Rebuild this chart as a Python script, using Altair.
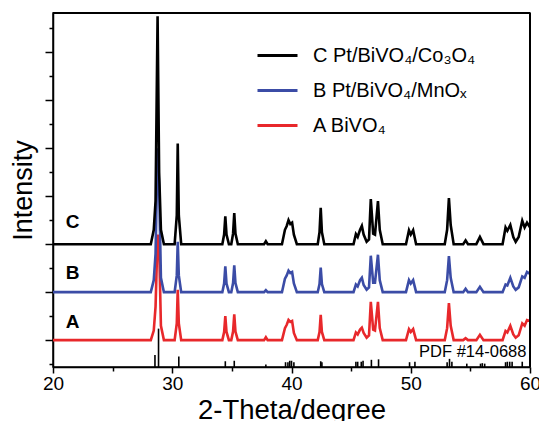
import altair as alt
import pandas as pd

# ---- data -----------------------------------------------------------------
two_theta = [20.0, 28.2, 28.45, 28.6, 28.77, 28.9, 29.05, 29.3,
             30.2, 30.38, 30.46, 30.55, 30.75,
             34.2, 34.35, 34.45, 34.55, 34.75,
             34.95, 35.1, 35.2, 35.3, 35.5,
             37.7, 37.85, 38.0,
             39.2, 39.45, 39.6, 39.75, 39.9, 40.05, 40.2, 40.45,
             42.2, 42.35, 42.45, 42.55, 42.75,
             45.2, 45.4, 45.55, 45.75, 45.9, 46.05, 46.3,
             46.5, 46.65, 46.85, 47.0, 47.25, 47.4, 47.65,
             49.6, 49.85, 50.0, 50.2, 50.45,
             52.85, 53.05, 53.2, 53.35, 53.6,
             54.4, 54.6, 54.8,
             55.5, 55.8, 56.1,
             57.7, 57.95, 58.1, 58.35, 58.6, 58.8, 59.05, 59.35, 59.55, 59.75, 60.0]

int_c = [0, 0, 0.3, 0.9, 4.75, 1.5, 0.3, 0,
         0, 0.6, 2.1, 0.6, 0,
         0, 0.2, 0.58, 0.2, 0,
         0, 0.22, 0.65, 0.22, 0,
         0, 0.06, 0,
         0, 0.3, 0.38, 0.5, 0.42, 0.45, 0.2, 0,
         0, 0.25, 0.76, 0.25, 0,
         0, 0.21, 0.15, 0.3, 0.38, 0.2, 0.05,
         0.1, 0.94, 0.22, 0.2, 0.9, 0.3, 0,
         0, 0.29, 0.2, 0.29, 0,
         0, 0.3, 0.96, 0.4, 0,
         0, 0.08, 0,
         0, 0.15, 0,
         0, 0.35, 0.28, 0.4, 0.15, 0.05, 0.15, 0.49, 0.35, 0.45, 0.35]

int_b = [0, 0, 0.25, 0.8, 3.0, 2.2, 0.3, 0,
         0, 0.35, 1.05, 0.35, 0,
         0, 0.18, 0.54, 0.18, 0,
         0, 0.19, 0.56, 0.19, 0,
         0, 0.04, 0,
         0, 0.28, 0.35, 0.45, 0.4, 0.42, 0.18, 0,
         0, 0.17, 0.51, 0.17, 0,
         0, 0.16, 0.12, 0.25, 0.3, 0.15, 0.05,
         0.1, 0.76, 0.2, 0.2, 0.78, 0.25, 0,
         0, 0.25, 0.18, 0.25, 0,
         0, 0.25, 0.75, 0.3, 0,
         0, 0.07, 0,
         0, 0.11, 0,
         0, 0.16, 0.14, 0.3, 0.12, 0.05, 0.1, 0.33, 0.3, 0.42, 0.38]

int_a = [0, 0, 0.2, 0.7, 2.2, 2.0, 0.3, 0,
         0, 0.35, 1.05, 0.35, 0,
         0, 0.17, 0.5, 0.17, 0,
         0, 0.18, 0.54, 0.18, 0,
         0, 0.06, 0,
         0, 0.25, 0.32, 0.42, 0.38, 0.4, 0.15, 0,
         0, 0.17, 0.53, 0.17, 0,
         0, 0.16, 0.12, 0.22, 0.26, 0.15, 0.05,
         0.1, 0.8, 0.22, 0.2, 0.8, 0.25, 0,
         0, 0.23, 0.17, 0.23, 0,
         0, 0.25, 0.77, 0.3, 0,
         0, 0.04, 0,
         0, 0.11, 0,
         0, 0.19, 0.16, 0.3, 0.12, 0.05, 0.1, 0.35, 0.3, 0.42, 0.4]

series_names = ["C Pt/BiVO\u2084/Co\u2083O\u2084",
                "B Pt/BiVO\u2084/MnO\u2093",
                "A BiVO\u2084"]
series_offsets = [2, 1, 0]
series_letters = ["C", "B", "A"]
letter_y = [2.46, 1.40, 0.375]
series_colors = ["#000000", "#3b4ca6", "#e8282b"]

pdf_pos = [28.55, 28.85, 30.55, 34.45, 35.2, 37.85, 39.5, 39.7, 39.85, 40.0,
           40.2, 42.45, 42.55, 45.4, 45.55, 45.85, 46.0, 46.7, 47.3, 49.9,
           50.35, 53.05, 53.25, 53.45, 54.7, 55.85, 56.0, 56.2, 57.95, 58.1,
           58.3, 58.5, 59.35]
pdf_h = [0.25, 0.8, 0.22, 0.12, 0.13, 0.05, 0.1, 0.1, 0.13, 0.13,
         0.1, 0.12, 0.1, 0.11, 0.11, 0.11, 0.13, 0.15, 0.16, 0.1,
         0.11, 0.1, 0.17, 0.11, 0.07, 0.07, 0.08, 0.07, 0.1, 0.11,
         0.11, 0.11, 0.11]
pdf_label = "PDF #14-0688"

x_major = [20, 30, 40, 50, 60]
x_minor = [25, 35, 45, 55]
y_major = [0, 1, 2, 3, 4, 5, 6]
y_minor = [-0.5, 0.5, 1.5, 2.5, 3.5, 4.5, 5.5, 6.5]
x_domain = [20, 60]
y_domain = [-0.56, 6.82]

# ---- tables -----------------------------------------------------------------
rows = []
for name, off, vals in zip(series_names, series_offsets, [int_c, int_b, int_a]):
    for t, v in zip(two_theta, vals):
        rows.append({"x": t, "y": v + off, "series": name})
lines_df = pd.DataFrame(rows)

pdf_df = pd.DataFrame({"x": pdf_pos,
                       "y0": [y_domain[0]] * len(pdf_pos),
                       "y1": [y_domain[0] + h for h in pdf_h]})
letters_df = pd.DataFrame({"x": [21.65] * 3, "y": letter_y, "t": series_letters})
pdf_text_df = pd.DataFrame({"x": [59.7], "y": [-0.25], "t": [pdf_label]})
frame_df = pd.DataFrame({"fx0": [x_domain[0]], "fx1": [x_domain[1]],
                         "fy0": [y_domain[0]], "fy1": [y_domain[1]]})

FONT = "Liberation Sans"
xs = alt.Scale(domain=x_domain, nice=False, zero=False)
ys = alt.Scale(domain=y_domain, nice=False, zero=False)

x_axis = alt.Axis(values=x_major, tickSize=6, labelFontSize=19, labelPadding=1,
                  title="2-Theta/degree", titleFontSize=27.5, titlePadding=3,
                  titleFontWeight="normal", grid=False, labelFlush=False)
y_axis = alt.Axis(values=y_major, tickSize=8, labels=False, title="Intensity",
                  titleFontSize=27, titlePadding=7, titleFontWeight="normal",
                  grid=False)

color = alt.Color("series:N",
                  scale=alt.Scale(domain=series_names, range=series_colors),
                  legend=alt.Legend(title=None, orient="none", legendX=203, legendY=21,
                                    symbolType="stroke", symbolSize=1600,
                                    symbolStrokeWidth=3, labelFontSize=20,
                                    labelFont=FONT, labelOffset=14, rowPadding=3,
                                    padding=0, labelLimit=400))

X = lambda f: alt.X(f, scale=xs, axis=x_axis)
Y = lambda f: alt.Y(f, scale=ys, axis=y_axis)

def line_layer(name):
    return alt.Chart(lines_df).transform_filter(
        alt.datum.series == name
    ).mark_line(strokeWidth=2.6, interpolate="linear").encode(
        x=X("x:Q"), y=Y("y:Q"), color=color, order=alt.Order("x:Q"),
    )

layers = [line_layer(series_names[2]), line_layer(series_names[1]), line_layer(series_names[0])]

sticks = alt.Chart(pdf_df).mark_rule(color="black", strokeWidth=1.6).encode(
    x=X("x:Q"), y=Y("y0:Q"), y2="y1:Q",
)

letters = alt.Chart(letters_df).mark_text(
    font=FONT, fontSize=19, fontWeight="bold", align="center", baseline="middle", color="black"
).encode(x=X("x:Q"), y=Y("y:Q"), text="t:N")

pdf_text = alt.Chart(pdf_text_df).mark_text(
    font=FONT, fontSize=16.5, align="right", baseline="middle", color="black"
).encode(x=X("x:Q"), y=Y("y:Q"), text="t:N")

frame_top = alt.Chart(frame_df).mark_rule(color="black", strokeWidth=2, clip=False).encode(
    x=X("fx0:Q"), x2="fx1:Q", y=Y("fy1:Q"),
)
frame_right = alt.Chart(frame_df).mark_rule(color="black", strokeWidth=2, clip=False).encode(
    x=X("fx1:Q"), y=Y("fy0:Q"), y2="fy1:Q",
)

main = alt.layer(*layers, sticks, letters, pdf_text, frame_top, frame_right)

minor = alt.Chart(pdf_df).mark_point(opacity=0).encode(
    x=alt.X("x:Q", scale=xs,
            axis=alt.Axis(values=x_minor, tickSize=4, labels=False, domain=False,
                          title=None, grid=False, orient="bottom")),
    y=alt.Y("y0:Q", scale=ys,
            axis=alt.Axis(values=y_minor, tickSize=4, labels=False, domain=False,
                          title=None, grid=False, orient="left")),
)

chart = alt.layer(main, minor).resolve_axis(x="independent", y="independent").properties(
    width=477, height=354,
    background="white",
    autosize=alt.AutoSizeParams(type="none"),
    padding={"left": 45, "top": 5, "right": 9, "bottom": 54},
).configure_view(stroke="black", strokeWidth=1.5).configure_axis(
    domainColor="black", domainWidth=1.5, tickColor="black", tickWidth=1.5,
    labelColor="black", titleColor="black", labelFont=FONT, titleFont=FONT,
)

chart.save("out.html", embed_options={"renderer": "svg", "actions": False})
